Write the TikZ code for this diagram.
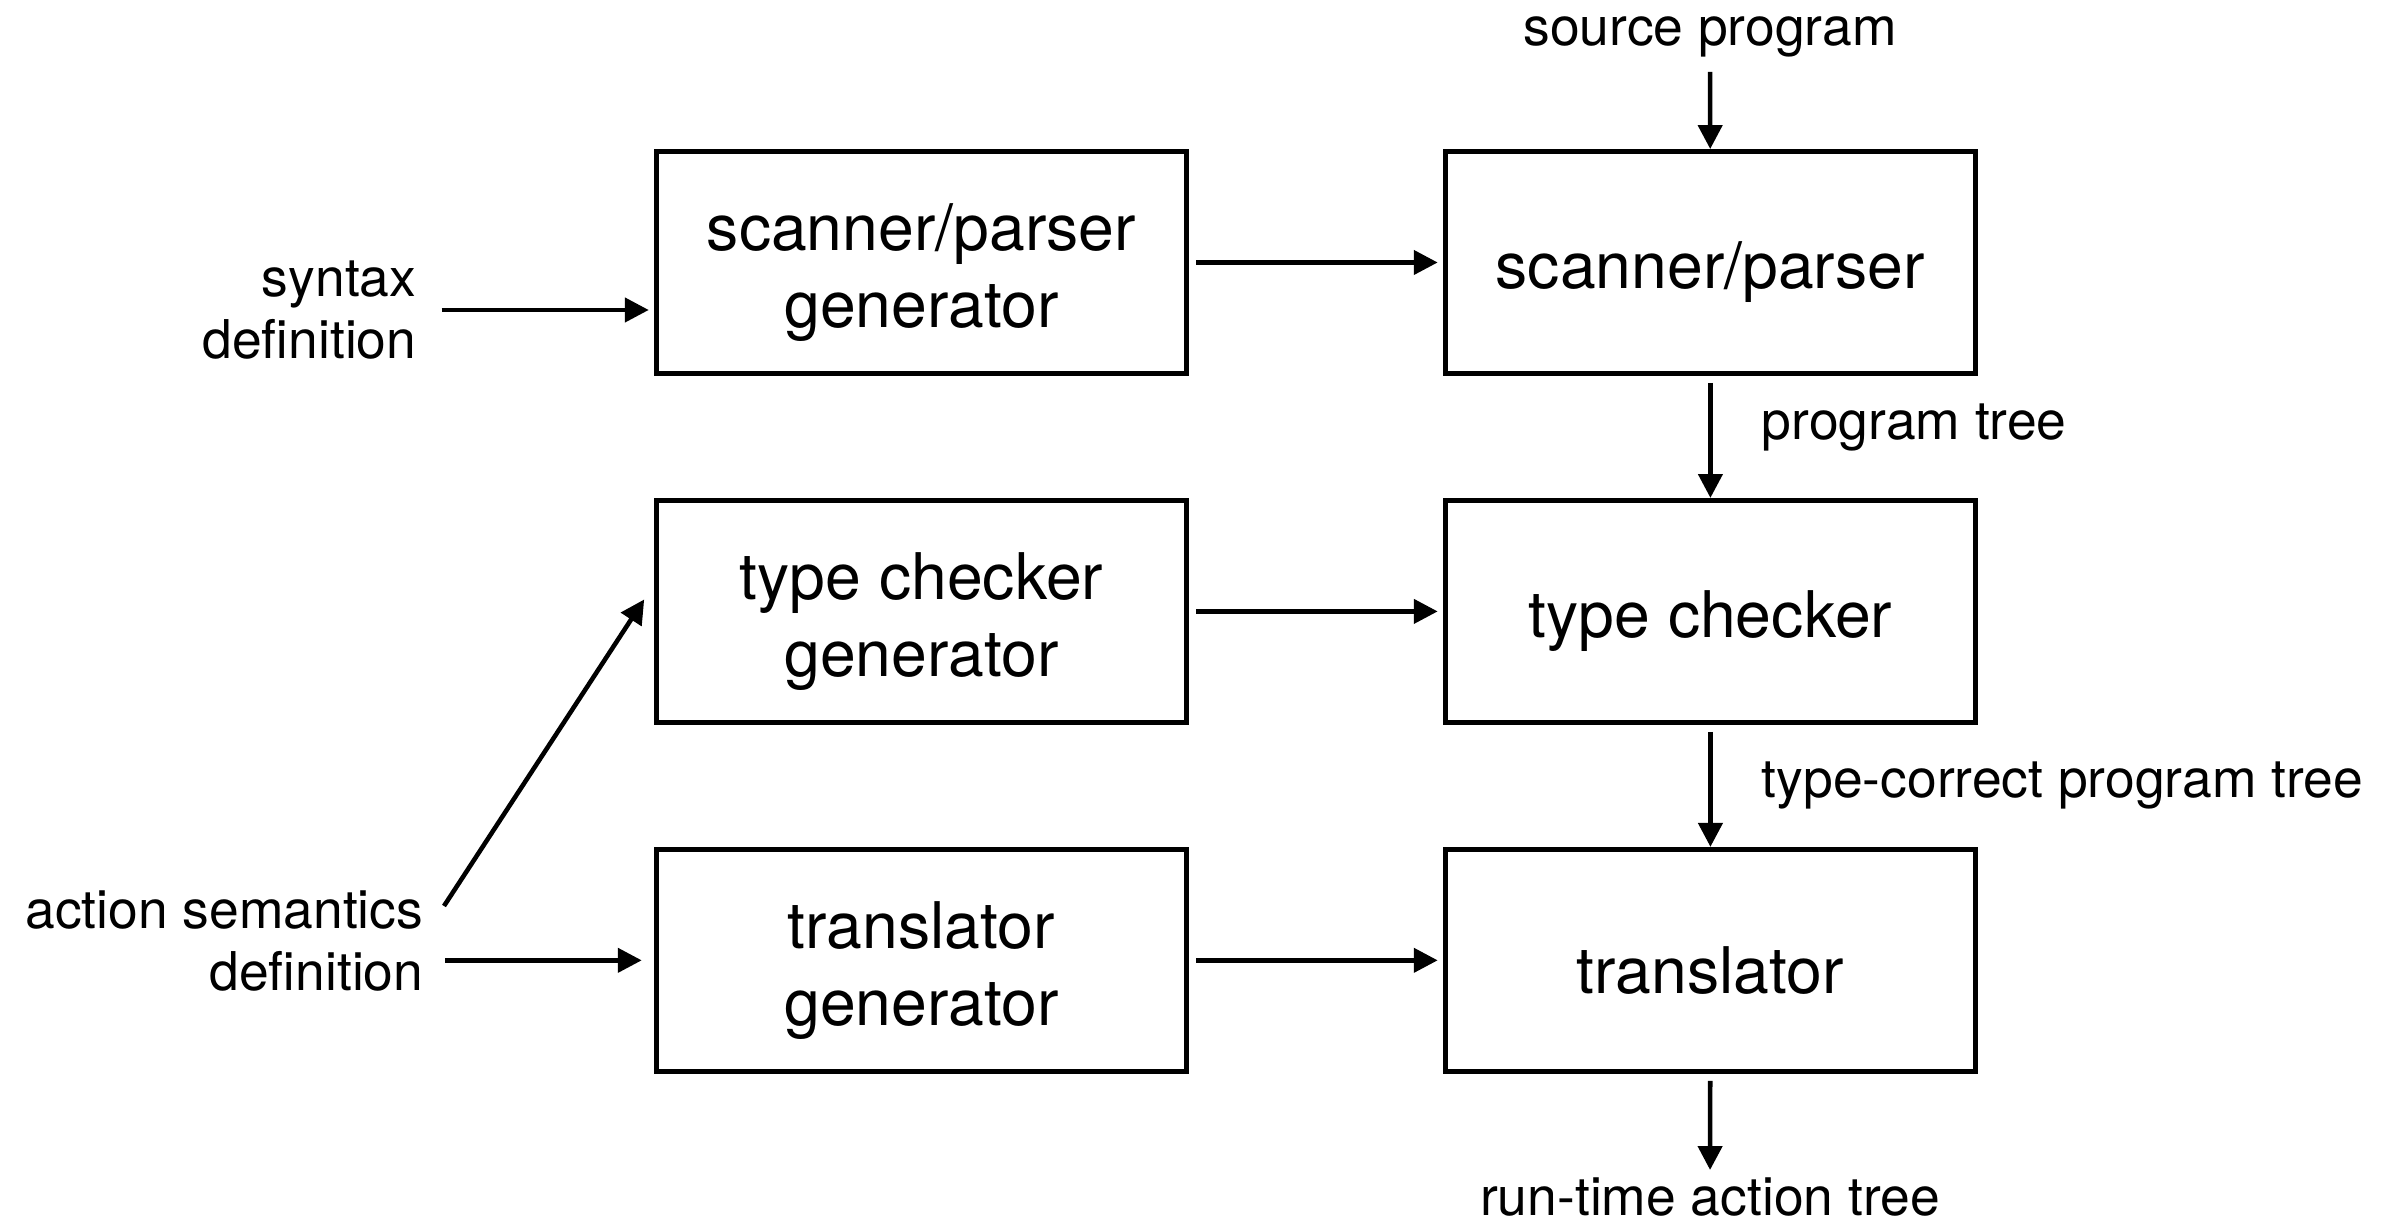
\documentclass[tikz,border=0pt]{standalone}
\usepackage{fontspec}
\setmainfont{TeX Gyre Heros}
\usetikzlibrary{arrows.meta, positioning}
\newcommand{\boxstrut}{\rule{0pt}{19pt}}
\tikzset{
stage/.style={
    rectangle,
    draw=black,
    line width=1.4pt,
    minimum width=5.3cm,
    minimum height=2.22cm,
    align=center,
    font=\fontsize{18.3}{22}\selectfont
},
tag/.style={
    inner sep=2pt,
    font=\fontsize{15.2}{17.5}\selectfont
}}

\begin{document}
\begin{tikzpicture}[
        >={Triangle[length=6.8pt, width=6.8pt]},
        node distance=1.22cm and 2.54cm,
        flow/.style={->, line width=1.3pt}
    ]
    \useasboundingbox (0,0) rectangle (24.07,-12.22);

    % generator column
    \node[stage] (SPG) at (9.215,-2.625) {\boxstrut scanner/parser\\generator};
    \node[stage, below=of SPG] (TCG) {\boxstrut type checker\\generator};
    \node[stage, below=of TCG] (TRG) {\boxstrut translator\\generator};

    % compiler column
    \node[stage, right=of SPG] (SP) {\boxstrut scanner/parser};
    \node[stage, right=of TCG] (TC) {\boxstrut type checker};
    \node[stage, right=of TRG] (TR) {\boxstrut translator};

    % inputs and outputs
    \node[tag, align=right, anchor=east] (SYN) at (4.24,-3.10) {syntax\\definition};
    \node[tag, align=right, anchor=east] (ASD) at (4.31,-9.41) {action semantics\\definition};
    \node[tag] (SRC) at (17.10,-0.37) {source program};
    \node[tag] (RUN) at (17.10,-11.97) {run-time action tree};
    \coordinate (ASDtop) at (4.44,-9.06);

    % edges
    \draw[flow, shorten <=5pt, shorten >=1.5pt] (SYN.east) -- (SYN.east -| SPG.west);
    \draw[flow, shorten <=4pt, shorten >=3.5pt] (ASD.east |- TRG.west) -- (TRG.west);
    \draw[flow] (ASDtop) -- ([xshift=-2.8pt, yshift=3.4pt]TCG.west);

    \draw[flow, shorten <=2pt, shorten >=1.5pt] (SPG) -- (SP);
    \draw[flow, shorten <=2pt, shorten >=1.5pt] (TCG) -- (TC);
    \draw[flow, shorten <=2pt, shorten >=1.5pt] (TRG) -- (TR);

    \draw[flow, shorten <=2pt] (SRC) -- (SP);
    \draw[flow, shorten <=2pt] (SP) -- node[tag, right=12pt, pos=0.42] {program tree} (TC);
    \draw[flow, shorten <=2pt] (TC) -- node[tag, right=12pt] {type-correct program tree} (TR);
    \draw[flow, shorten <=2pt] (TR) -- (RUN);

    \end{tikzpicture}
\end{document}
